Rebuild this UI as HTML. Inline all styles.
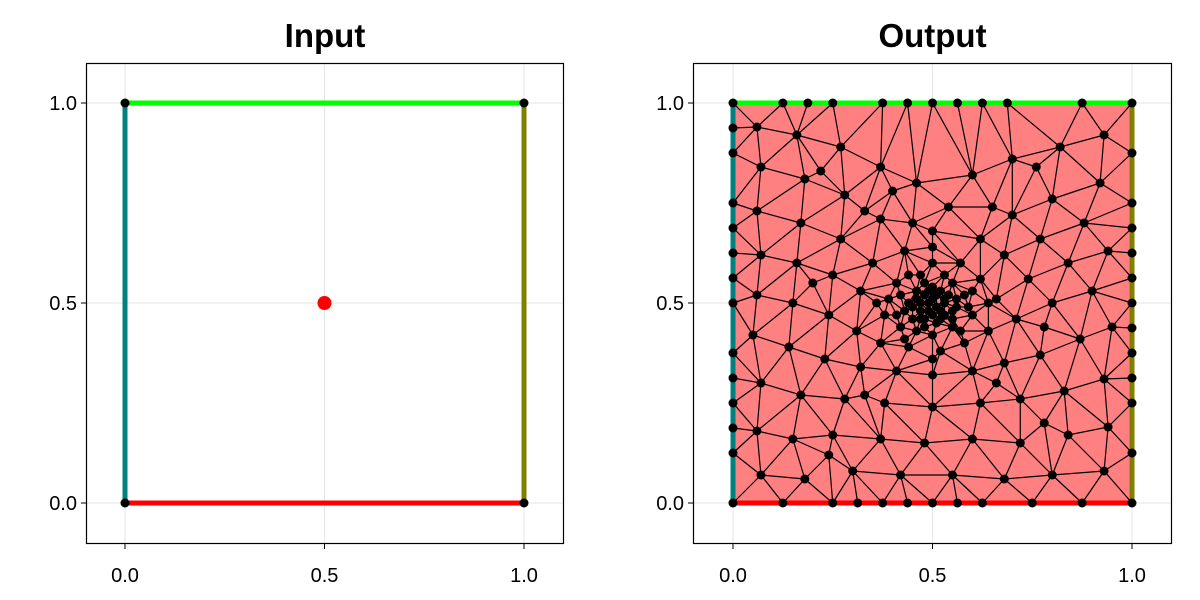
<!DOCTYPE html>
<html><head><meta charset="utf-8">
<style>
html,body{margin:0;padding:0;background:#fff;width:1200px;height:600px;overflow:hidden}
svg text{font-family:"Liberation Sans",sans-serif}
</style></head>
<body>
<svg id="chart" width="1200" height="600" viewBox="0 0 1200 600" xmlns="http://www.w3.org/2000/svg"></svg>
<script>
const tickValues=[0,0.5,1];
const tickLabels=["0.0","0.5","1.0"];
const titles=["Input","Output"];
const inputVertices=[[0,0],[1,0],[1,1],[0,1]];
const segmentColors=["rgb(255,0,0)","rgb(128,128,0)","rgb(0,255,0)","rgb(0,128,128)"];
const inputPoint=[0.5,0.5];
const bottomXs=[0,.125,.25,.3125,.375,.4375,.5,.5625,.625,.75,.875,1];
const topXs=[0,.125,.1875,.25,.375,.4375,.5,.5625,.625,.6875,.875,1];
const leftYs=[0,.125,.1875,.25,.3125,.375,.5,.5625,.625,.6875,.75,.875,.9375,1];
const rightYs=[0,.125,.25,.3125,.375,.4375,.5,.5625,.625,.6875,.75,.875,1];
const interiorPts=[
[.07,.07],[.18,.06],[.3,.08],[.42,.07],[.55,.07],[.68,.06],[.8,.07],[.93,.08],
[.06,.18],[.15,.16],[.25,.17],[.37,.16],[.48,.15],[.6,.16],[.72,.15],[.84,.17],[.94,.19],
[.07,.3],[.17,.27],[.28,.26],[.38,.25],[.5,.24],[.62,.25],[.72,.26],[.83,.28],[.93,.31],
[.05,.42],[.14,.39],[.23,.36],[.32,.34],[.41,.33],[.5,.32],[.6,.33],[.68,.35],[.77,.37],[.87,.41],[.95,.44],
[.06,.52],[.15,.5],[.24,.47],[.31,.43],[.37,.4],[.44,.39],[.52,.38],[.58,.4],[.64,.43],[.71,.46],[.8,.5],[.9,.53],
[.07,.62],[.16,.6],[.25,.57],[.32,.53],[.38,.47],[.42,.44],[.46,.43],[.5,.42],[.55,.44],[.6,.47],[.66,.51],[.74,.56],[.84,.6],[.94,.63],
[.06,.73],[.17,.7],[.27,.66],[.35,.6],[.41,.55],[.44,.5],[.45,.46],[.48,.46],[.52,.46],[.55,.48],[.58,.52],[.62,.56],[.68,.62],[.77,.66],[.88,.7],
[.07,.84],[.18,.81],[.28,.77],[.37,.71],[.43,.63],[.47,.57],[.48,.52],[.5,.54],[.53,.51],[.55,.55],[.57,.6],[.62,.66],[.7,.72],[.8,.76],[.92,.8],
[.06,.94],[.16,.92],[.27,.89],[.37,.84],[.46,.8],[.5,.68],[.54,.74],[.6,.82],[.7,.86],[.82,.89],[.93,.92],
[.47,.5],[.51,.49],[.49,.48],[.52,.53],[.46,.53],[.5,.51],[.5,.6],[.45,.7],[.4,.78],[.53,.47],[.49,.53],[.48,.44],[.43,.48],[.56,.51],[.44,.57],[.53,.57],
[.5,.47],[.53,.5],[.5,.53],[.47,.48],[.46,.51],[.51,.45],[.54,.52],[.48,.55],[.45,.49],[.52,.48],[.49,.5],[.51,.52],[.47,.46],[.55,.46],[.56,.49],[.42,.52],[.41,.47],[.39,.51],[.59,.49],[.6,.53],[.57,.43],[.43,.41],[.5,.36],[.5,.64],[.36,.5],[.64,.5],
[.33,.73],[.65,.74],[.33,.27],[.66,.3],[.2,.55],[.78,.44],[.22,.83],[.76,.84],[.24,.12],[.78,.2]
];
const NS="http://www.w3.org/2000/svg";
const svg=document.getElementById('chart');
function mk(tag,attrs,parent){const e=document.createElementNS(NS,tag);for(const k in attrs)e.setAttribute(k,attrs[k]);(parent||svg).appendChild(e);return e;}
const panels=[{left:86,right:564,x0:125,x1:524},{left:693,right:1172,x0:733,x1:1132}];
const topY=63,bottomY=544,y0=503,y1=103;
function sy(v){return y0+(y1-y0)*v;}
panels.forEach((p,i)=>{
  const sx=v=>p.x0+(p.x1-p.x0)*v;
  const g=mk('g',{});
  
  
  tickValues.forEach((t,j)=>{
    const gx=mk('line',{x1:sx(t),x2:sx(t),y1:topY,y2:bottomY,stroke:'#e6e6e6','stroke-width':1},g);
    
    const gy=mk('line',{x1:p.left,x2:p.right,y1:sy(t),y2:sy(t),stroke:'#e6e6e6','stroke-width':1},g);
    
    const tx=mk('text',{x:sx(t),y:bottomY+38,'text-anchor':'middle','font-size':20},g);tx.textContent=tickLabels[j];
    
    const ty=mk('text',{x:p.left-9,y:sy(t)+7,'text-anchor':'end','font-size':20},g);ty.textContent=tickLabels[j];
    
    mk('line',{x1:sx(t),x2:sx(t),y1:bottomY,y2:bottomY+5,stroke:'#000'},g);
    mk('line',{x1:p.left-5,x2:p.left,y1:sy(t),y2:sy(t),stroke:'#000'},g);
  });
  if(i===1){
    const pts=[];
    bottomXs.forEach(x=>pts.push([x,0]));topXs.forEach(x=>pts.push([x,1]));
    leftYs.forEach(y=>pts.push([0,y]));rightYs.forEach(y=>pts.push([1,y]));
    interiorPts.forEach(q=>pts.push(q));
    const uniq=[];pts.forEach(q=>{if(!uniq.some(u=>Math.abs(u[0]-q[0])<1e-9&&Math.abs(u[1]-q[1])<1e-9))uniq.push(q);});
    const fill=mk('rect',{x:sx(0),y:sy(1),width:sx(1)-sx(0),height:sy(0)-sy(1),fill:'rgb(255,128,128)'},g);
    
    const P=uniq.map(q=>[q[0],q[1]]);const n=P.length;
    P.push([-10,-10],[10,-10],[0.5,10]);
    let tris=[[n,n+1,n+2]];
    function cc(t){const a=P[t[0]],b=P[t[1]],c=P[t[2]];const d=2*(a[0]*(b[1]-c[1])+b[0]*(c[1]-a[1])+c[0]*(a[1]-b[1]));
      const ux=((a[0]**2+a[1]**2)*(b[1]-c[1])+(b[0]**2+b[1]**2)*(c[1]-a[1])+(c[0]**2+c[1]**2)*(a[1]-b[1]))/d;
      const uy=((a[0]**2+a[1]**2)*(c[0]-b[0])+(b[0]**2+b[1]**2)*(a[0]-c[0])+(c[0]**2+c[1]**2)*(b[0]-a[0]))/d;
      return [ux,uy,(a[0]-ux)**2+(a[1]-uy)**2];}
    for(let k=0;k<n;k++){const q=P[k];const bad=[],keep=[];
      tris.forEach(t=>{const c=cc(t);((q[0]-c[0])**2+(q[1]-c[1])**2<c[2])?bad.push(t):keep.push(t);});
      const edges={};bad.forEach(t=>{[[t[0],t[1]],[t[1],t[2]],[t[2],t[0]]].forEach(e=>{const key=Math.min(e[0],e[1])+','+Math.max(e[0],e[1]);edges[key]=(edges[key]||0)+1;});});
      tris=keep;for(const key in edges)if(edges[key]===1){const ab=key.split(',').map(Number);tris.push([ab[0],ab[1],k]);}}
    tris=tris.filter(t=>t.every(k=>k<n));
    const drawn={};
    tris.forEach(t=>{[[t[0],t[1]],[t[1],t[2]],[t[2],t[0]]].forEach(e=>{const key=Math.min(e[0],e[1])+','+Math.max(e[0],e[1]);if(drawn[key])return;drawn[key]=1;
      const l=mk('line',{x1:sx(P[e[0]][0]),y1:sy(P[e[0]][1]),x2:sx(P[e[1]][0]),y2:sy(P[e[1]][1]),stroke:'#000','stroke-width':1.2},g);
      });});
    inputVertices.forEach((v,k)=>{const w=inputVertices[(k+1)%4];
      const s=mk('line',{x1:sx(v[0]),y1:sy(v[1]),x2:sx(w[0]),y2:sy(w[1]),stroke:segmentColors[k],'stroke-width':5},g);
      });
    for(let k=0;k<n;k++){const c=mk('circle',{cx:sx(P[k][0]),cy:sy(P[k][1]),r:4.5,fill:'#000'},g);
      }
  } else {
    inputVertices.forEach((v,k)=>{const w=inputVertices[(k+1)%4];
      const s=mk('line',{x1:sx(v[0]),y1:sy(v[1]),x2:sx(w[0]),y2:sy(w[1]),stroke:segmentColors[k],'stroke-width':5},g);
      });
    inputVertices.forEach(v=>{const c=mk('circle',{cx:sx(v[0]),cy:sy(v[1]),r:4.5,fill:'#000'},g);
      });
    const rp=mk('circle',{cx:sx(inputPoint[0]),cy:sy(inputPoint[1]),r:7,fill:'rgb(255,0,0)'},g);
    
  }
  const fr=mk('rect',{x:p.left+0.5,y:topY+0.5,width:p.right-p.left-1,height:bottomY-topY-1,fill:'none',stroke:'#000','stroke-width':1.2},g);
  
  const tt=mk('text',{x:(p.left+p.right)/2,y:47,'text-anchor':'middle','font-size':33,'font-weight':'bold'},g);
  tt.textContent=titles[i];
  
});
</script>
</body></html>
